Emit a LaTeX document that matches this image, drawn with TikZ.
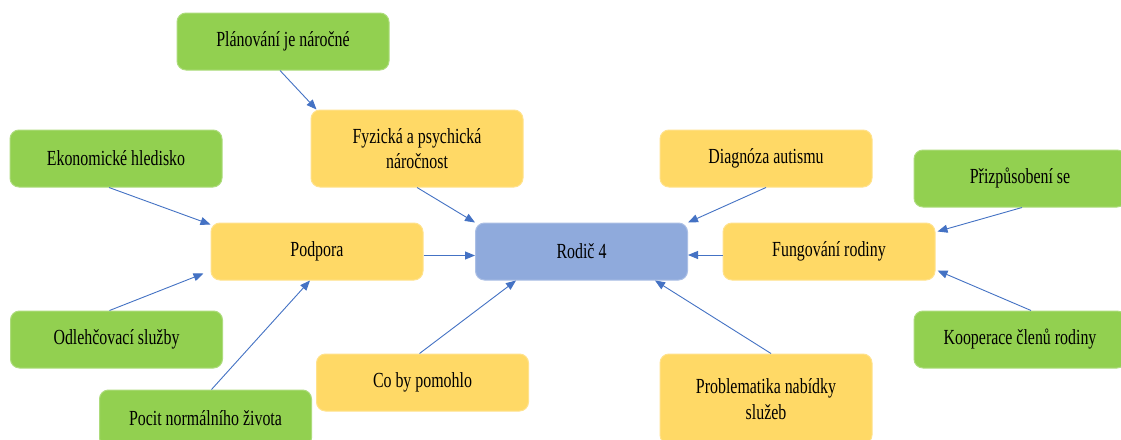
\documentclass[tikz,border=0pt]{standalone}
\usepackage{fontspec}
\setmainfont[FakeStretch=0.74]{Liberation Serif}
\usetikzlibrary{arrows.meta,calc}
\definecolor{bgreen}{HTML}{92D050}
\definecolor{byellow}{HTML}{FFD966}
\definecolor{bblue}{HTML}{8FAADC}
\definecolor{arr}{HTML}{4472C4}
\begin{document}
\begin{tikzpicture}[x=1pt,y=-1pt,
  box/.style={rounded corners=9pt, minimum width=212pt, minimum height=57pt, inner sep=0pt,
    align=center, font=\fontsize{21.5}{25.5}\selectfont, line width=1pt},
  gbox/.style={box, fill=bgreen, draw=bgreen!75!white},
  ybox/.style={box, fill=byellow, draw=byellow!75!white},
  bbox/.style={box, fill=bblue, draw=bblue!75!white},
  con/.style={draw=arr, line width=0.9pt, -{Triangle[length=10pt,width=8pt]}}]
\useasboundingbox (0,0) rectangle (1121,439);
\clip (0,0) rectangle (1121,439);
\fill[white] (0,0) rectangle (1121,439);
% nodes
\node[gbox] (plan) at (283,41.5) {Plánování je náročné};
\node[ybox, minimum height=77pt] (fyz) at (417,148.5) {Fyzická a psychická\\náročnost};
\node[gbox] (eko) at (116,158.5) {Ekonomické hledisko};
\node[ybox] (pod) at (317,251.5) {Podpora};
\node[bbox] (rod) at (581.5,251.5) {Rodič 4};
\node[ybox] (diag) at (766,158.5) {Diagnóza autismu};
\node[gbox] (priz) at (1020,178.5) {Přizpůsobení se};
\node[ybox] (fun) at (829,251.5) {Fungování rodiny};
\node[gbox] (odl) at (116.5,339.5) {Odlehčovací služby};
\node[gbox] (kop) at (1020,339.5) {Kooperace členů rodiny};
\node[ybox] (co) at (422.5,382.5) {Co by pomohlo};
\node[ybox, minimum height=90pt] (prob) at (766,399) {Problematika nabídky\\služeb};
\node[gbox] (poc) at (205.5,418.5) {Pocit normálního života};
% connectors
\draw[con] ($(plan.south)+(-3,0)$) -- ($(fyz.north west)+(6,0)$);
\draw[con] (fyz.south) -- (rod.north west);
\draw[con] ($(eko.south)+(-7,0)$) -- ($(pod.north west)+(0,2)$);
\draw[con] ($(odl.north)+(-7,0)$) -- ($(pod.south west)+(-7,-7)$);
\draw[con] ($(poc.north)+(6,0)$) -- ($(pod.south)+(-7,0)$);
\draw[con] ($(pod.east)+(0,4)$) -- ($(rod.west)+(0,4)$);
\draw[con] ($(co.north)+(-3,0)$) -- ($(rod.south west)+(41,0)$);
\draw[con] (diag.south) -- (rod.north east);
\draw[con] ($(fun.west)+(0,3.5)$) -- ($(rod.east)+(0,3.5)$);
\draw[con] ($(prob.north)+(5,0)$) -- ($(rod.south east)+(-33,0)$);
\draw[con] ($(priz.south)+(2,0)$) -- ($(fun.north east)+(2,9)$);
\draw[con] ($(kop.north)+(11,0)$) -- ($(fun.south east)+(2,-10)$);
\end{tikzpicture}
\end{document}
